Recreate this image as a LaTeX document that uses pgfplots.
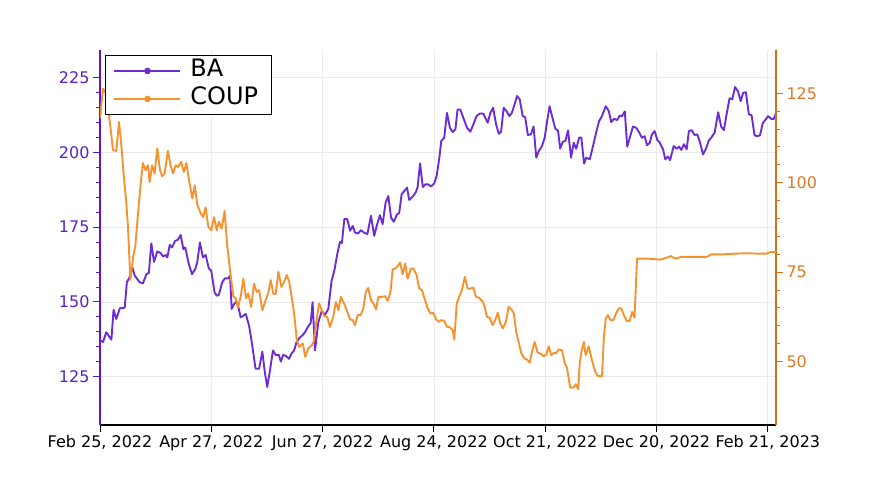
\documentclass[border=0pt]{standalone}
\usepackage{pgfplots}
\pgfplotsset{compat=1.18}
\usepackage{fontspec}
\setmainfont{DejaVu Sans}
\definecolor{BAline}{HTML}{6D2DD6}
\definecolor{BAaxis}{HTML}{5E14CC}
\definecolor{BAtick}{HTML}{5B22C8}
\definecolor{COUPline}{HTML}{F8922E}
\definecolor{COUPaxis}{HTML}{D9700F}
\definecolor{COUPtick}{HTML}{D97A28}
\definecolor{gridc}{HTML}{EBEBEB}
\begin{document}
\begin{tikzpicture}
\useasboundingbox (0,0) rectangle (875pt,486pt);
\pgfplotsset{
 base/.style={at={(100pt,61pt)}, anchor=south west, width=676pt, height=375pt, scale only axis,
   xmin=0, xmax=249, tick align=outside, major tick length=7pt, minor tick length=4pt,
   /pgf/number format/assume math mode=true,
   ticklabel style={font=\fontsize{16}{19}\selectfont}},
}
\begin{axis}[base, ymin=108.9, ymax=234.2,
  axis x line*=bottom, axis y line*=left,
  x axis line style={black, line width=2pt, -},
  y axis line style={BAaxis, line width=2pt, -},
  xtick={0,41,82,123,164,205,246},
  xticklabels={{Feb 25, 2022},{Apr 27, 2022},{Jun 27, 2022},{Aug 24, 2022},{Oct 21, 2022},{Dec 20, 2022},{Feb 21, 2023}},
  ytick={125,150,175,200,225}, minor y tick num=4,
  grid=major, major grid style={gridc, line width=0.8pt},
  xtick style={black, line width=1pt}, ytick style={BAaxis, line width=1pt},
  yticklabel style={text=BAtick}, xticklabel style={text=black}]
\addplot[BAline, line width=1.9pt, line join=round] coordinates {
(0,137.3)(1.1,136.6)(2.3,139.9)(4.2,137.4)(5.0,147.4)(6.0,144.3)(7.3,147.9)(9.1,148.1)(9.9,156.6)(10.9,158.2)(11.9,161.6)(12.8,158.8)(14.6,156.6)(15.8,156.2)(17.1,159.3)(18.0,159.7)(18.9,169.6)(19.9,163.4)(21.1,166.9)(22.4,166.3)(23.2,165.2)(24.2,165.7)(24.8,164.9)(25.7,169.1)(26.5,168.2)(27.7,170.4)(28.7,170.8)(29.7,172.4)(30.7,167.7)(31.4,168.2)(32.7,162.7)(33.9,159.3)(35.1,161.0)(35.8,163.2)(36.8,169.9)(37.9,164.9)(38.9,165.7)(40.1,161.2)(41.0,160.4)(42.2,153.2)(43.0,152.1)(43.8,152.4)(45.0,156.6)(46.0,157.9)(47.3,157.9)(47.9,158.8)(48.5,147.7)(49.4,149.3)(50.2,150.1)(50.9,148.6)(51.8,144.9)(52.8,145.4)(53.7,146.0)(54.9,142.1)(55.9,136.6)(57.3,127.7)(58.6,127.7)(59.8,133.4)(60.7,126.6)(61.6,121.6)(62.6,127.1)(63.7,133.8)(64.7,132.3)(65.9,132.3)(66.6,130.1)(67.5,132.3)(68.6,131.9)(69.6,131.0)(70.5,132.7)(71.5,133.8)(72.4,136.6)(73.4,137.9)(74.7,139.0)(75.5,139.9)(76.7,141.9)(77.6,143.0)(78.3,149.9)(79.2,133.8)(80.4,143.2)(81.7,147.1)(82.9,145.7)(84.1,147.7)(85.3,157.1)(86.3,160.4)(87.4,166.0)(88.4,170.1)(89.1,169.7)(90.0,177.7)(91.1,177.7)(92.1,173.8)(93.1,175.4)(93.9,173.2)(95.1,172.9)(96.1,174.0)(97.2,173.2)(98.5,172.7)(99.8,178.8)(101.0,172.1)(102.1,176.0)(103.1,179.0)(104.1,176.0)(105.2,183.2)(106.2,185.4)(107.2,178.2)(108.2,176.8)(109.4,179.3)(110.2,179.7)(111.1,186.0)(112.1,187.1)(113.1,188.2)(113.9,184.1)(115.2,185.2)(116.4,186.8)(117.0,188.4)(117.9,196.3)(118.9,188.4)(119.8,189.3)(120.9,189.3)(121.9,188.6)(123.1,189.6)(124.0,192.1)(125.0,198.2)(125.7,203.8)(126.8,204.9)(127.8,213.2)(128.9,208.2)(129.9,206.8)(130.9,207.7)(131.7,214.3)(132.7,214.3)(133.8,211.6)(135.2,208.2)(136.4,206.9)(137.5,209.3)(138.7,212.1)(140.0,213.0)(141.2,212.9)(142.2,211.0)(142.8,209.9)(143.8,213.2)(144.8,214.9)(145.9,209.3)(146.9,206.2)(147.7,206.8)(148.7,214.9)(149.7,213.8)(150.8,212.1)(151.7,213.2)(152.7,216.0)(153.6,218.8)(154.6,217.7)(155.7,212.1)(156.6,211.8)(157.6,205.8)(158.7,206.0)(159.7,208.6)(160.7,198.2)(161.6,200.4)(162.8,202.1)(163.8,204.9)(164.6,209.9)(165.6,215.4)(166.5,212.1)(167.7,207.9)(168.7,207.3)(169.5,201.3)(170.5,203.6)(171.4,203.8)(172.4,207.3)(173.5,198.2)(174.5,203.2)(175.4,201.2)(176.5,204.9)(177.3,204.9)(178.3,196.2)(179.1,198.2)(180.4,197.7)(181.3,201.0)(182.6,206.0)(183.8,210.4)(184.9,212.1)(186.3,215.4)(187.4,213.8)(188.3,210.1)(189.3,211.2)(190.5,210.8)(191.4,212.3)(192.3,212.1)(193.3,213.7)(194.2,201.9)(195.3,205.4)(196.3,208.6)(197.5,208.2)(198.5,206.8)(199.6,204.9)(200.6,205.4)(201.5,202.4)(202.5,203.2)(203.3,206.0)(204.3,207.1)(205.3,204.1)(206.1,203.4)(207.4,201.0)(208.2,197.7)(209.2,198.6)(210.0,197.4)(211.3,202.1)(212.4,201.2)(213.3,201.9)(214.1,200.8)(215.1,202.7)(216.1,201.0)(216.9,207.1)(217.9,207.4)(219.0,205.8)(220.0,206.0)(221.0,203.4)(222.1,199.3)(223.1,201.0)(224.3,204.0)(225.3,205.1)(226.4,206.6)(227.7,213.4)(228.8,208.6)(229.8,207.4)(230.8,212.7)(231.9,218.1)(232.9,217.7)(233.9,221.8)(235.0,220.4)(236.0,217.1)(236.9,219.9)(237.9,220.1)(239.0,212.7)(240.0,212.4)(241.1,205.7)(242.1,205.4)(243.1,205.7)(244.1,209.7)(245.2,211.0)(246.1,212.1)(247.2,211.2)(248.2,211.2)(249.0,213.2)
};
\end{axis}
\begin{axis}[base, ymin=32.3, ymax=137.1,
  axis x line=none, axis y line*=right,
  y axis line style={COUPaxis, line width=2pt, -},
  ytick={50,75,100,125}, minor y tick num=4,
  ytick style={COUPaxis, line width=1pt},
  yticklabel style={text=COUPtick},
  legend style={at={(0.0074,0.9867)}, anchor=north west, draw=black, line width=1pt, fill=white,
    inner xsep=8pt, inner ysep=1.5pt, font=\fontsize{24}{28}\selectfont, row sep=0pt, column sep=4pt,
    nodes={inner ysep=2pt, inner xsep=5pt, text height=18pt, text depth=6pt}},
  legend cell align=left,
  legend image code/.code={\draw[#1, mark=none] (0pt,0pt) -- (66pt,0pt); \draw[#1] plot coordinates {(33pt,0pt)};}]
\addlegendimage{BAline, line width=1.9pt, mark=*, mark size=2.3pt}
\addlegendentry{BA}
\addlegendimage{COUPline, line width=1.9pt, mark=*, mark size=2.3pt}
\addlegendentry{COUP}
\addplot[COUPline, line width=1.9pt, line join=round, forget plot] coordinates {
(0,118.0)(1.1,126.3)(1.95,125.4)(2.9,121.2)(3.9,115.1)(4.8,109.1)(6.0,108.9)(7.0,117.0)(7.8,111.0)(8.8,101.6)(9.7,94.2)(10.3,87.7)(11.2,72.8)(12.2,79.3)(13.0,82.1)(14.0,91.4)(15.0,99.8)(15.8,105.5)(16.8,103.5)(17.7,104.9)(18.3,100.2)(19.2,104.9)(20.1,102.6)(21.1,109.6)(22.1,103.5)(22.9,101.8)(23.8,102.6)(25.0,108.9)(26.0,104.9)(26.9,102.6)(27.9,104.9)(28.7,104.4)(29.9,105.8)(30.9,103.0)(31.8,105.5)(32.8,100.7)(34.0,95.6)(34.9,99.3)(35.8,94.0)(37.1,91.4)(38.0,90.4)(38.9,93.1)(39.9,87.7)(41.0,86.7)(42.0,90.4)(43.0,86.7)(43.8,89.1)(44.8,87.2)(45.9,92.1)(46.9,82.1)(48.1,74.2)(49.1,68.3)(50.0,67.7)(50.8,65.1)(51.8,68.1)(52.8,73.2)(53.8,67.7)(54.6,69.1)(55.7,65.3)(56.7,71.8)(57.7,69.5)(58.6,70.0)(59.8,64.4)(61.0,67.2)(61.9,69.0)(62.9,72.8)(63.8,69.0)(64.7,68.9)(65.7,75.1)(66.8,70.9)(67.8,72.3)(68.8,74.2)(69.7,72.3)(70.6,68.1)(71.5,63.5)(72.5,56.0)(73.4,54.1)(74.7,55.1)(75.6,51.3)(76.7,53.7)(78.0,54.6)(78.8,55.8)(79.6,60.7)(80.7,66.3)(81.7,64.4)(82.6,62.7)(83.7,62.5)(84.7,59.7)(85.9,62.5)(86.9,66.7)(87.8,64.4)(88.7,68.1)(89.9,66.3)(91.1,63.9)(92.1,61.8)(93.1,61.6)(93.9,60.2)(94.9,63.0)(96.0,63.0)(97.0,64.9)(97.9,69.5)(98.8,70.6)(99.8,67.2)(100.7,66.3)(101.7,64.6)(102.5,68.1)(103.8,68.1)(105.0,68.3)(106.0,67.0)(107.0,69.5)(107.8,75.8)(108.8,76.0)(109.6,76.7)(110.5,77.7)(111.5,74.4)(112.4,77.4)(113.3,73.2)(114.5,76.0)(115.5,76.0)(116.6,74.2)(117.6,70.4)(118.6,70.0)(119.7,67.2)(120.7,64.9)(121.7,63.5)(122.8,63.6)(123.8,61.8)(124.7,61.1)(125.6,61.6)(126.8,61.4)(127.8,59.7)(128.9,59.6)(129.9,58.8)(130.5,56.2)(131.4,66.3)(132.3,68.1)(133.3,70.0)(134.4,73.7)(135.4,70.4)(136.4,70.4)(137.5,70.7)(138.5,68.1)(139.7,67.8)(141.0,66.7)(141.7,65.3)(142.5,62.5)(143.5,62.3)(144.6,60.2)(145.6,61.6)(146.5,63.7)(147.4,60.7)(148.4,59.3)(149.5,61.1)(150.5,65.3)(151.5,64.6)(152.4,63.6)(153.3,58.3)(154.2,55.5)(155.2,52.3)(156.3,50.9)(157.3,50.6)(158.3,49.7)(159.1,52.7)(160.1,55.5)(161.2,52.5)(162.2,52.3)(163.4,51.5)(164.4,52.0)(165.3,54.3)(166.2,51.8)(167.1,52.5)(168.0,52.3)(168.9,53.4)(170.2,53.2)(171.2,49.5)(172.0,48.3)(173.2,42.7)(174.5,42.8)(175.3,43.7)(176.1,42.3)(176.7,49.5)(177.3,52.7)(178.2,55.5)(178.9,51.8)(180.0,54.3)(181.2,50.4)(182.4,47.2)(183.4,46.0)(184.9,45.9)(185.6,56.9)(186.3,62.1)(187.1,63.0)(188.1,61.6)(189.1,61.6)(190.1,63.5)(191.1,64.9)(192.0,64.9)(193.0,63.0)(194.0,61.4)(195.1,61.4)(196.0,63.9)(196.9,62.3)(197.8,78.8)(199.4,78.8)(201.3,78.8)(203.7,78.7)(206.3,78.5)(208.5,79.0)(210.2,79.5)(211.9,78.8)(214.3,79.3)(218.5,79.3)(223.5,79.3)(225.3,80.0)(229.6,80.0)(234.5,80.2)(238.2,80.3)(241.9,80.2)(245.6,80.2)(246.8,80.6)(248.4,80.7)(249.0,80.6)
};
\end{axis}
\end{tikzpicture}
\end{document}
